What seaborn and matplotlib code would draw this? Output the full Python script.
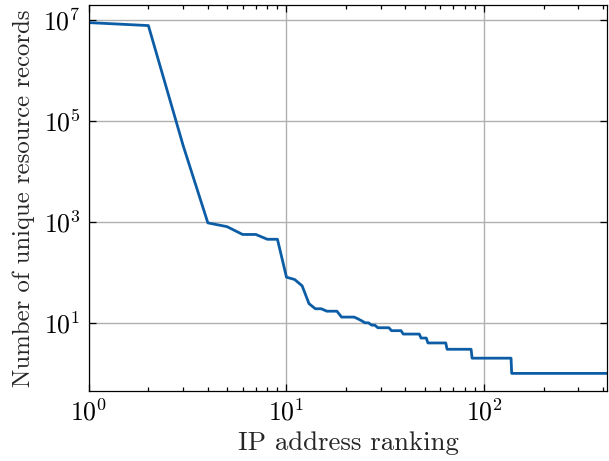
import numpy as np
import pandas as pd
import matplotlib
matplotlib.use("Agg")
import matplotlib.pyplot as plt
import matplotlib.ticker as mticker
import seaborn as sns

# (rank, records) points
ranks = [1, 2, 3, 4, 5, 6, 7, 8, 9, 10, 11, 12, 13, 14, 15, 16, 17, 18,
         19, 20, 21, 22, 23, 24, 25, 26, 27, 28, 29, 33, 34, 38, 39, 47,
         48, 51, 52, 64, 65, 86, 87, 137, 138, 420]
records = [8.7e6, 7.6e6, 3.2e4, 950, 800, 560, 560, 450, 450, 80, 72, 54, 24,
           19, 19, 17, 17, 17, 13, 13, 13, 13, 12, 11, 10, 10, 9, 9, 8, 8, 7,
           7, 6, 6, 5, 5, 4, 4, 3, 3, 2, 2, 1, 1]

df = pd.DataFrame({"rank": ranks, "records": records})

sns.set_theme(style="ticks")
plt.rcParams.update({
    "font.family": "serif",
    "font.serif": ["cmr10", "DejaVu Serif"],
    "mathtext.fontset": "cm",
    "axes.formatter.use_mathtext": True,
    "axes.unicode_minus": False,
    "font.size": 18.5,
})

fig = plt.figure(figsize=(6.09, 4.61), dpi=100)
ax = fig.add_axes([0.146, 0.152, 0.851, 0.837])

sns.lineplot(data=df, x="rank", y="records", ax=ax, color="#0C5DA5",
             linewidth=2.0, estimator=None, sort=False)

ax.set_xscale("log")
ax.set_yscale("log")
ax.set_xlim(1, 420)
lo, hi = np.log10(min(records)), np.log10(max(records))
pad = 0.05 * (hi - lo)
ax.set_ylim(10 ** (lo - pad), 10 ** (hi + pad))
ax.set_yticks([1e1, 1e3, 1e5, 1e7])
ax.yaxis.set_minor_locator(mticker.NullLocator())
ax.xaxis.set_minor_locator(mticker.LogLocator(base=10, subs=np.arange(2, 10)))
ax.xaxis.set_minor_formatter(mticker.NullFormatter())

ax.grid(True, which="major", color="#b0b0b0", linewidth=1.0)
ax.tick_params(which="both", direction="in", top=True, right=True,
               width=0.9, labelsize=18.5, colors="black")
ax.tick_params(which="major", length=5.2, pad=6)
ax.tick_params(which="minor", length=2.6)
for s in ax.spines.values():
    s.set_linewidth(0.9)
    s.set_color("black")

ax.set_xlabel("IP address ranking", fontsize=19.3, labelpad=4)
ax.set_ylabel("Number of unique resource records", fontsize=17.8, labelpad=6)

fig.savefig("out.png", dpi=100)
